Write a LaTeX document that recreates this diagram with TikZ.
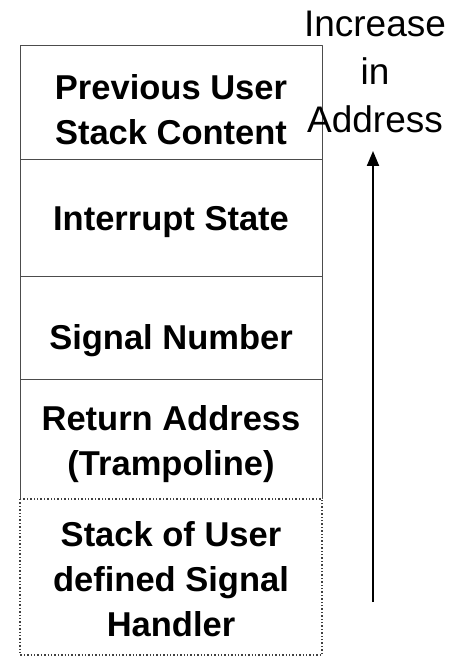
\documentclass[tikz,border=0pt]{standalone}
\usepackage{fontspec}
\setmainfont{Liberation Sans}
\usetikzlibrary{arrows.meta}
\begin{document}
\begin{tikzpicture}[>={Triangle[length=15pt,width=12pt]}, x=1pt, y=-1pt, line join=round,
    cell/.style={line width=0.9pt, draw=black!70},
    celltext/.style={align=center, inner sep=0pt, font=\fontsize{34.5}{45}\selectfont\bfseries},
    sidetext/.style={align=center, inner sep=0pt, font=\fontsize{37}{48}\selectfont}]
        \useasboundingbox (0,0) rectangle (457,660);
        \def\xl{20} \def\xr{322} \def\xm{171}
        % stack frame, top to bottom
        \draw[cell] (\xl,45) rectangle (\xr,159);
        \draw[cell] (\xl,159) rectangle (\xr,276);
        \draw[cell] (\xl,276) rectangle (\xr,379);
        \draw[cell] (\xl,379) -- (\xl,499) (\xr,379) -- (\xr,499);
        \draw[cell,line width=1.4pt,draw=black!75,dash pattern=on 1.4pt off 2pt] (\xl,499) rectangle (\xr,655);
        \node[celltext] (prev) at (\xm,110) {Previous User\\Stack Content};
        \node[celltext] (intr) at (\xm,222) {Interrupt State};
        \node[celltext] (signo) at (\xm,341) {Signal Number};
        \node[celltext] (ret) at (\xm,444) {Return Address\\(Trampoline)};
        \node[celltext] (handler) at (\xm,579) {Stack of User\\defined Signal\\Handler};
        % address direction
        \node[sidetext] (incr) at (375,72) {Increase\\in\\Address};
        \coordinate (tail) at (373,602);
        \coordinate (head) at (373,151);
        \draw[->, line width=2pt] (tail) -- (head);
    \end{tikzpicture}
\end{document}
